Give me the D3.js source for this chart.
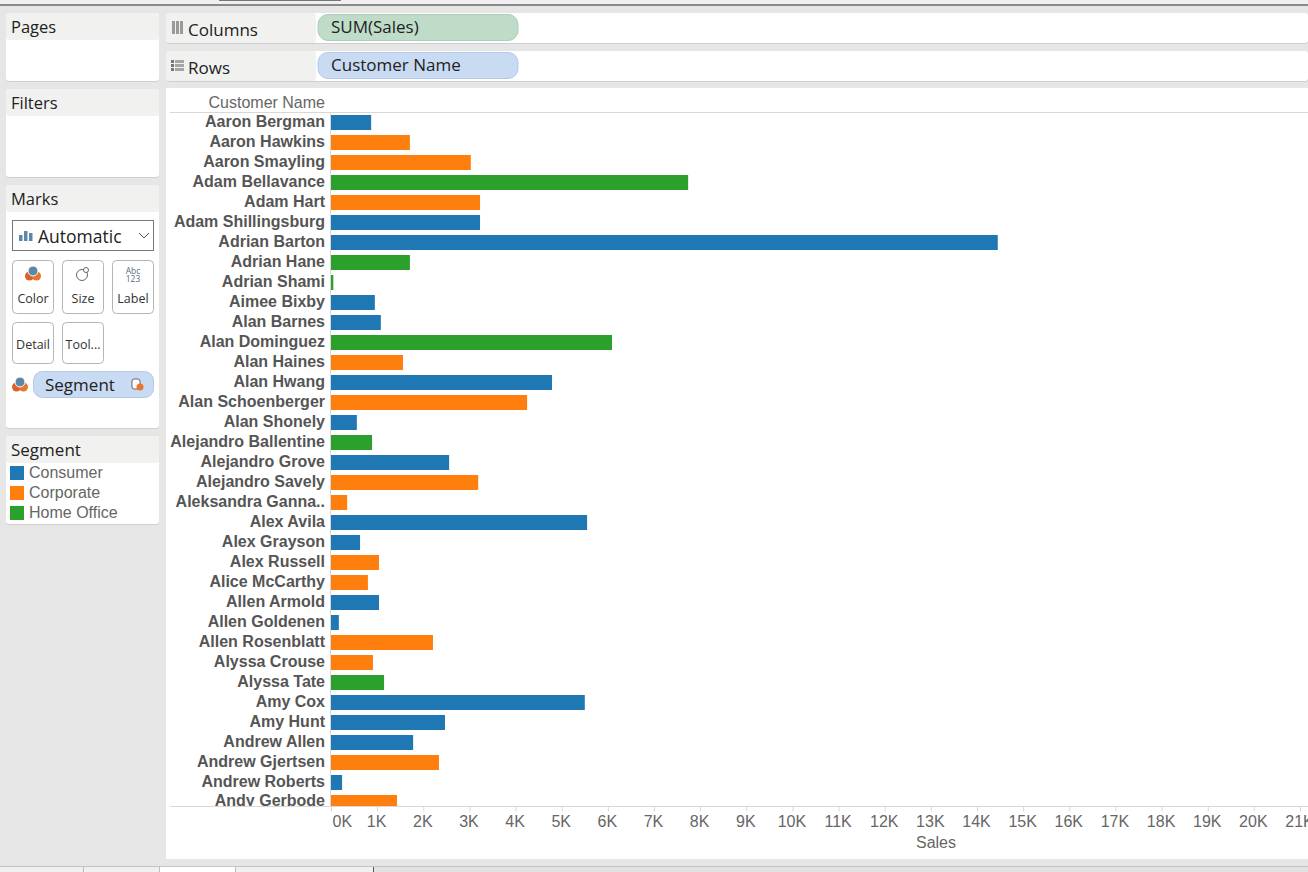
<!DOCTYPE html>
<html>
<head>
<meta charset="utf-8">
<script src="https://cdn.jsdelivr.net/npm/d3@7"></script>
<style>
html, body { margin: 0; padding: 0; background: #e6e6e6; overflow: hidden; }
text { font-family: "Open Sans", "Noto Sans", sans-serif; }
.chart text { font-family: "Liberation Sans", Arial, sans-serif; }
</style>
</head>
<body>
<div id="viz"></div>
<script>
var customers = ["Aaron Bergman","Aaron Hawkins","Aaron Smayling","Adam Bellavance","Adam Hart","Adam Shillingsburg","Adrian Barton","Adrian Hane","Adrian Shami","Aimee Bixby","Alan Barnes","Alan Dominguez","Alan Haines","Alan Hwang","Alan Schoenberger","Alan Shonely","Alejandro Ballentine","Alejandro Grove","Alejandro Savely","Aleksandra Ganna..","Alex Avila","Alex Grayson","Alex Russell","Alice McCarthy","Allen Armold","Allen Goldenen","Allen Rosenblatt","Alyssa Crouse","Alyssa Tate","Amy Cox","Amy Hunt","Andrew Allen","Andrew Gjertsen","Andrew Roberts","Andy Gerbode"];
var sales = [0.87,1.71,3.03,7.74,3.23,3.23,14.45,1.71,0.05,0.95,1.08,6.09,1.56,4.79,4.25,0.56,0.89,2.56,3.19,0.35,5.55,0.63,1.04,0.80,1.04,0.17,2.21,0.91,1.15,5.50,2.47,1.78,2.34,0.24,1.43];
var segments = ["C","O","O","H","O","C","C","H","H","C","C","H","O","C","O","C","H","C","O","O","C","C","O","O","C","C","O","O","H","C","C","C","O","C","O"];
var segmentNames = ["Consumer","Corporate","Home Office"];
var segmentKeys = ["C","O","H"];
var segmentColors = ["#1f77b4","#ff7f0e","#2ca02c"];
var salesTicks = d3.range(0, 22);

var svg = d3.select("#viz").append("svg")
    .attr("width", 1308)
    .attr("height", 872)
    .style("display", "block");

var color = d3.scaleOrdinal().domain(segmentKeys).range(segmentColors);
var x = d3.scaleLinear().domain([0, 21]).range([331, 1300]);
var y = d3.scaleBand().domain(customers).range([112.5, 812.5]).paddingInner(0.25).paddingOuter(0.125);

// window chrome
svg.append("rect").attr("width", 1308).attr("height", 872).attr("fill", "#e6e6e6");
svg.append("rect").attr("width", 1308).attr("height", 4).attr("fill", "#f0f0f0");
svg.append("rect").attr("y", 4).attr("width", 1308).attr("height", 2).attr("fill", "#8a8a8a");
svg.append("rect").attr("x", 219).attr("width", 122).attr("height", 1).attr("fill", "#777");

function card(px, py, w, h, title, headH, fs) {
    svg.append("rect").attr("x", px).attr("y", py + 1).attr("width", w).attr("height", h).attr("rx", 3).attr("fill", "#cfcfcf");
    svg.append("rect").attr("x", px).attr("y", py).attr("width", w).attr("height", h).attr("rx", 3).attr("fill", "#fff");
    svg.append("rect").attr("x", px).attr("y", py).attr("width", w).attr("height", headH).attr("rx", 3).attr("fill", "#f1f1f0");
    svg.append("text").attr("x", px + 5).attr("y", py + headH - 7).attr("font-size", fs).attr("fill", "#222").text(title);
}
card(6, 13, 153, 68, "Pages", 27, 16.5);
card(6, 89, 153, 88, "Filters", 27, 16.5);
card(6, 185, 153, 243, "Marks", 27, 16.5);
card(6, 436, 153, 88, "Segment", 27, 17);

// marks card
svg.append("rect").attr("x", 12.5).attr("y", 220.5).attr("width", 141).attr("height", 30).attr("fill", "#fff").attr("stroke", "#777");
svg.selectAll(".mk").data([[19,6],[24,10],[29,8]]).enter().append("rect")
    .attr("x", d => d[0]).attr("y", d => 241 - d[1]).attr("width", 3.5).attr("height", d => d[1]).attr("fill", "#5b87a8");
svg.append("text").attr("x", 38).attr("y", 243).attr("font-size", 17.5).attr("fill", "#222").text("Automatic");
svg.append("path").attr("d", "M139 233l5 5l5 -5").attr("fill", "none").attr("stroke", "#555");

var markButtons = [["Color",12,260,41,53],["Size",62,260,41,53],["Label",112,260,41,53],["Detail",12,322,41,41],["Tool...",62,322,41,41]];
svg.selectAll(".btn").data(markButtons).enter().append("rect")
    .attr("x", d => d[1] + 0.5).attr("y", d => d[2] + 0.5).attr("width", d => d[3]).attr("height", d => d[4])
    .attr("rx", 4).attr("fill", "#fff").attr("stroke", "#b5b5b5");
svg.selectAll(".btnt").data(markButtons).enter().append("text")
    .attr("x", d => d[1] + 21).attr("y", d => d[2] + (d[4] > 45 ? 43 : 27)).attr("text-anchor", "middle")
    .attr("font-size", 12.5).attr("fill", "#333").text(d => d[0]);

function colorIcon(cx, cy) {
    svg.append("circle").attr("cx", cx - 3.5).attr("cy", cy + 3).attr("r", 4.5).attr("fill", "#d9622b");
    svg.append("circle").attr("cx", cx + 3.5).attr("cy", cy + 3).attr("r", 4.5).attr("fill", "#e8762c");
    svg.append("circle").attr("cx", cx).attr("cy", cy - 2).attr("r", 5).attr("fill", "#5b87a8").attr("stroke", "#fff");
}
colorIcon(33, 273);
colorIcon(20, 384);
svg.append("circle").attr("cx", 82).attr("cy", 275).attr("r", 5.5).attr("fill", "none").attr("stroke", "#666");
svg.append("circle").attr("cx", 86).attr("cy", 270).attr("r", 2.5).attr("fill", "#fff").attr("stroke", "#666");
svg.append("text").attr("x", 133).attr("y", 273.5).attr("text-anchor", "middle").attr("font-size", 8.5).attr("fill", "#5b6b7b").text("Abc");
svg.append("text").attr("x", 133).attr("y", 281.5).attr("text-anchor", "middle").attr("font-size", 8.5).attr("fill", "#5b6b7b").text("123");

svg.append("rect").attr("x", 33.5).attr("y", 371.5).attr("width", 120).attr("height", 26).attr("rx", 9).attr("fill", "#c9daf3").attr("stroke", "#b4c9e8");
svg.append("text").attr("x", 45).attr("y", 391).attr("font-size", 17).attr("fill", "#222").text("Segment");
svg.append("rect").attr("x", 132).attr("y", 379).attr("width", 8).attr("height", 10).attr("rx", 2).attr("fill", "#fff").attr("stroke", "#666");
svg.append("circle").attr("cx", 140).attr("cy", 387).attr("r", 3.5).attr("fill", "#e8762c");

// legend
svg.selectAll(".lg").data(segmentNames).enter().append("rect")
    .attr("x", 10).attr("y", (d, i) => 466 + i * 20).attr("width", 14).attr("height", 14)
    .attr("fill", (d, i) => segmentColors[i]);
svg.selectAll(".lgt").data(segmentNames).enter().append("text")
    .attr("x", 29).attr("y", (d, i) => 478 + i * 20)
    .style("font-family", "'Liberation Sans', Arial, sans-serif")
    .attr("font-size", 16).attr("fill", "#666").text(d => d);

// shelves
[["Columns", 13, 30, "SUM(Sales)", "#bfdcc9", "#a9cdb6", 36],["Rows", 51, 30, "Customer Name", "#c9daf3", "#b4c9e8", 74]].forEach(function(s) {
    svg.append("rect").attr("x", 166).attr("y", s[1] + 1).attr("width", 1142).attr("height", s[2]).attr("rx", 3).attr("fill", "#cfcfcf");
    svg.append("rect").attr("x", 166).attr("y", s[1]).attr("width", 1142).attr("height", s[2]).attr("rx", 3).attr("fill", "#fff");
    svg.append("rect").attr("x", 166).attr("y", s[1]).attr("width", 150).attr("height", s[2]).attr("rx", 3).attr("fill", "#f1f1f0");
    svg.append("text").attr("x", 188).attr("y", s[6]).attr("font-size", 17).attr("fill", "#222").text(s[0]);
    svg.append("rect").attr("x", 318).attr("y", s[1] + 1.5).attr("width", 200).attr("height", 26).attr("rx", 10).attr("fill", s[4]).attr("stroke", s[5]);
    svg.append("text").attr("x", 331).attr("y", s[1] + 20).attr("font-size", 17).attr("fill", "#222").text(s[3]);
});
svg.selectAll(".ci").data([0,1,2]).enter().append("rect")
    .attr("x", d => 172 + d * 4).attr("y", 21).attr("width", 3).attr("height", 13).attr("fill", "#9a9a9a");
svg.selectAll(".ri").data([0,1,2]).enter().append("rect")
    .attr("x", 171).attr("y", d => 60 + d * 4).attr("width", 3).attr("height", 3).attr("fill", "#777");
svg.selectAll(".rl").data([0,1,2]).enter().append("rect")
    .attr("x", 175).attr("y", d => 60 + d * 4).attr("width", 9).attr("height", 3).attr("fill", "#a5a5a5");

// bottom tabs
svg.append("rect").attr("y", 866).attr("width", 1308).attr("height", 6).attr("fill", "#e2e2e2");
svg.append("rect").attr("y", 866).attr("width", 374).attr("height", 6).attr("fill", "#f0f0f0");
svg.append("rect").attr("x", 160).attr("y", 866).attr("width", 76).attr("height", 6).attr("fill", "#fff");
svg.append("rect").attr("y", 866).attr("width", 1308).attr("height", 1).attr("fill", "#c4c4c4");
svg.selectAll(".tb").data([83,159,235,373]).enter().append("rect")
    .attr("x", d => d).attr("y", 867).attr("width", 1).attr("height", 5).attr("fill", d => d == 373 ? "#555" : "#bdbdbd");

// view
svg.append("rect").attr("x", 166).attr("y", 88).attr("width", 1142).attr("height", 771).attr("fill", "#fff");

var chart = svg.append("g").attr("class", "chart");
chart.append("defs").append("clipPath").attr("id", "rowsClip")
    .append("rect").attr("x", 166).attr("y", 113).attr("width", 1142).attr("height", 693);

chart.append("text").attr("x", 325).attr("y", 108).attr("text-anchor", "end")
    .attr("font-size", 16).attr("fill", "#666").text("Customer Name");
chart.append("line").attr("x1", 170).attr("x2", 1308).attr("y1", 112.5).attr("y2", 112.5).attr("stroke", "#d8d8d8");

var rows = chart.append("g").attr("clip-path", "url(#rowsClip)");
rows.append("line").attr("x1", x(0) - 0.5).attr("x2", x(0) - 0.5).attr("y1", 113).attr("y2", 806).attr("stroke", "#d8d8d8");

rows.selectAll(".bar").data(customers).enter().append("rect")
    .attr("class", "bar")
    .attr("x", x(0))
    .attr("y", d => y(d))
    .attr("width", (d, i) => x(sales[i]) - x(0))
    .attr("height", y.bandwidth())
    .attr("fill", (d, i) => color(segments[i]));

// the last row sits 1px higher in the view
rows.selectAll(".name").data(customers).enter().append("text")
    .attr("class", "name")
    .attr("x", 325)
    .attr("y", (d, i) => y(d) + y.bandwidth() / 2 + 4.5 - (i == customers.length - 1 ? 1 : 0))
    .attr("text-anchor", "end")
    .attr("font-size", 16)
    .attr("font-weight", "bold")
    .attr("fill", "#555")
    .text(d => d);

var axis = chart.append("g").attr("transform", "translate(0,806.5)")
    .call(d3.axisBottom(x).tickValues(salesTicks).tickFormat(d => d + "K").tickSize(5).tickPadding(4));
axis.select(".domain").remove();
axis.selectAll(".tick line").attr("stroke", "#d8d8d8");
axis.selectAll(".tick text").attr("x", -1).attr("font-size", 16).attr("fill", "#666").style("font-family", "'Liberation Sans', Arial, sans-serif");
axis.selectAll(".tick").filter(d => d == 0).select("text").attr("x", 1).attr("text-anchor", "start");
chart.append("line").attr("x1", 170).attr("x2", 1308).attr("y1", 806.5).attr("y2", 806.5).attr("stroke", "#d8d8d8");
chart.append("text").attr("x", 936).attr("y", 848).attr("text-anchor", "middle").attr("font-size", 16).attr("fill", "#666").text("Sales");
</script>
</body>
</html>
